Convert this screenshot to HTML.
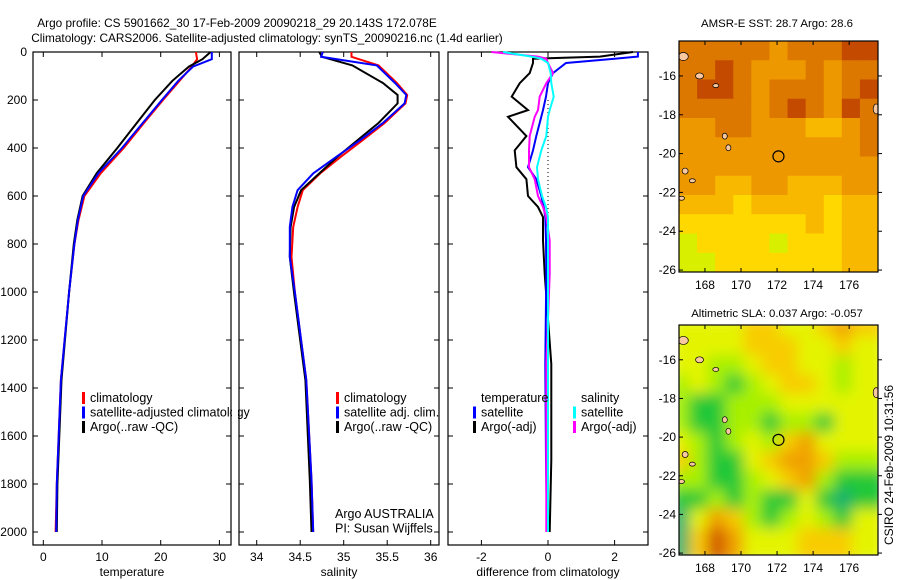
<!DOCTYPE html>
<html><head><meta charset="utf-8"><style>
body{margin:0;background:#fff}
svg{display:block;font-family:"Liberation Sans",sans-serif}
</style></head><body>
<svg id="c" width="900" height="580" viewBox="0 0 900 580">
<defs><filter id="blur" x="0" y="0" width="1" height="1"><feGaussianBlur stdDeviation="7"/></filter>
<clipPath id="clipTop"><rect x="679" y="41" width="199" height="231"/></clipPath>
<clipPath id="clipBot"><rect x="679" y="325" width="199" height="230"/></clipPath></defs>
<text x="237" y="27" font-size="11.8" text-anchor="middle">Argo profile: CS 5901662_30 17-Feb-2009 20090218_29 20.143S 172.078E</text>
<text x="267" y="42" font-size="11.8" text-anchor="middle">Climatology: CARS2006. Satellite-adjusted climatology: synTS_20090216.nc (1.4d earlier)</text>
<text x="777" y="27" font-size="11.4" text-anchor="middle">AMSR-E SST: 28.7 Argo: 28.6</text>
<text x="777" y="317" font-size="11.4" text-anchor="middle">Altimetric SLA: 0.037 Argo: -0.057</text>
<text transform="translate(893,465) rotate(-90)" font-size="12" text-anchor="middle">CSIRO 24-Feb-2009 10:31:56</text>
<g id="g"></g>
</svg>
<script>
// ---- data ----
const tDepth=[0,30,61,120,200,300,400,505,600,700,800,1000,1367,1800,2000];
const tempSat=[28.7,28.7,25.5,23.0,20.2,16.8,13.4,9.4,6.8,5.9,5.3,4.4,3.0,2.3,2.2];
const tempClim=[26.0,26.2,25.3,23.2,20.4,17.0,13.7,9.8,7.0,6.0,5.3,4.4,3.0,2.3,2.1];
const tempArgo=[28.5,27.1,24.8,22.0,19.0,15.8,12.6,9.1,6.7,5.8,5.2,4.4,3.1,2.4,2.3];
const sDepth=[0,20,56,129,179,214,296,367,436,506,576,646,729,854,1005,1367,1783,2000];
const salSat=[34.76,34.74,35.38,35.59,35.72,35.70,35.45,35.19,34.92,34.65,34.47,34.41,34.38,34.38,34.44,34.57,34.63,34.65];
const salClim=[35.09,35.09,35.40,35.61,35.73,35.71,35.47,35.22,34.97,34.73,34.53,34.47,34.42,34.40,34.44,34.57,34.63,34.65];
const salArgo=[34.72,34.75,35.10,35.45,35.62,35.62,35.40,35.16,34.93,34.72,34.51,34.43,34.39,34.38,34.43,34.56,34.61,34.63];
const dDepth=[0,19,28,46,88,130,186,242,270,350,410,480,530,600,646,688,785,925,1300,1700,2000];
const dTempArgo=[2.55,1.56,-0.45,-0.45,-0.55,-0.85,-1.09,-0.6,-1.2,-0.65,-1.0,-0.95,-0.65,-0.6,-0.3,-0.15,-0.15,-0.1,0.1,0.1,0.05];
const dTempSat=[2.7,2.7,2.0,0.54,0.15,0.0,-0.06,-0.15,-0.2,-0.35,-0.45,-0.6,-0.35,-0.2,-0.13,-0.08,-0.06,-0.05,-0.08,-0.06,-0.03];
const dSalSat=[-1.35,-0.5,-0.2,0.0,0.08,0.1,0.17,0.05,0.0,-0.05,-0.2,-0.33,-0.3,-0.18,-0.06,0.0,0.0,0.0,0.0,0.0,0.0];
const dSalArgo=[-1.7,-0.3,-0.05,0.0,0.15,-0.05,-0.25,-0.3,-0.4,-0.55,-0.57,-0.57,-0.4,-0.3,-0.15,-0.05,0.05,0.05,-0.05,-0.05,-0.05];
const depthTicks=[0,200,400,600,800,1000,1200,1400,1600,1800,2000];
const tempTicks=[0,10,20,30];
const salTicks=[34,34.5,35,35.5,36];
const diffTicks=[-2,0,2];
const lonTicks=[168,170,172,174,176];
const latTicks=[-16,-18,-20,-22,-24,-26];
const sstGrid=[
[2,2,2,2,2,3,2,2,2,1,1],[2,2,1,2,3,3,3,2,3,2,2],[2,1,1,2,3,2,2,2,3,2,1],[2,2,2,2,3,2,1,2,3,1,2],
[3,3,2,2,3,3,3,4,4,3,2],[3,3,3,3,3,3,3,3,3,3,2],[3,3,3,3,3,3,3,3,3,3,3],[3,3,4,4,3,3,4,4,4,3,3],
[4,4,4,5,4,4,4,4,5,4,4],[5,5,5,5,5,5,5,4,5,4,4],[6,5,5,5,5,6,5,5,5,4,4],[6,6,5,5,5,5,5,5,5,4,4]];
const slaGrid=[
[0,0,0,0,1,1,0,0,1,2,1],[0,0,0,0,1,1,1,0,0,1,0],[0,0,-1,-1,0,1,1,0,0,-1,0],[-1,0,-1,-2,-1,0,1,1,0,-1,0],
[-1,-2,-2,-1,-1,-1,0,0,0,0,0],[-1,-2,-2,-1,-1,-2,-1,-1,-2,0,0],[0,-1,-2,-1,0,-1,1,2,0,0,0],[1,-1,-2,-2,0,1,2,2,1,-1,-1],
[-1,-1,-2,-2,-1,0,1,2,-1,-2,-2],[-2,-2,-1,-2,-1,-2,-2,0,-2,-3,-2],[-3,0,2,1,-1,-2,-1,0,-1,-2,0],[-3,1,3,2,0,0,0,1,1,1,0]];
const argoLon=172.078, argoLat=-20.143;
// ---- helpers ----
const NS="http://www.w3.org/2000/svg", G=document.getElementById('g');
function mk(tag,at,parent){const e=document.createElementNS(NS,tag);for(const k in at)e.setAttribute(k,at[k]);(parent||G).appendChild(e);return e;}
const yD=d=>52+d*0.24;
const panels=[
 {x0:33,x1:231,sx:v=>43.3+v*5.87,ticks:tempTicks,label:'temperature',name:'temperature'},
 {x0:239,x1:439,sx:v=>256.7+(v-34)*87,ticks:salTicks,label:'salinity',name:'salinity'},
 {x0:448,x1:648,sx:v=>548+v*33.3,ticks:diffTicks,label:'difference from climatology',name:'difference'}];
panels.forEach((p,i)=>{
 const b=mk('rect',{x:p.x0,y:52,width:p.x1-p.x0,height:493,fill:'none',stroke:'#000','stroke-width':1.2});
 
 
 depthTicks.forEach(d=>{
  mk('line',{x1:p.x0,x2:p.x0+5,y1:yD(d),y2:yD(d),stroke:'#000'});
  mk('line',{x1:p.x1,x2:p.x1-5,y1:yD(d),y2:yD(d),stroke:'#000'});
  if(i==0){const t=mk('text',{x:27,y:yD(d)+4,'font-size':12,'text-anchor':'end'});t.textContent=d;
   
   }
 });
 p.ticks.forEach(v=>{
  const x=p.sx(v);
  mk('line',{x1:x,x2:x,y1:545,y2:540,stroke:'#000'});
  mk('line',{x1:x,x2:x,y1:52,y2:57,stroke:'#000'});
  const t=mk('text',{x:x,y:561,'font-size':12,'text-anchor':'middle'});t.textContent=v;
  
  
 });
 const l=mk('text',{x:(p.x0+p.x1)/2,y:576,'font-size':12,'text-anchor':'middle'});l.textContent=p.label;
 
 
});
function line(p,depths,vals,col,name){
 const pts=depths.map((d,k)=>p.sx(vals[k]).toFixed(1)+','+yD(d).toFixed(1)).join(' ');
 const e=mk('polyline',{points:pts,fill:'none',stroke:col,'stroke-width':2});
 
 
}
const zl=mk('line',{x1:548,x2:548,y1:yD(200),y2:yD(2000),stroke:'#000','stroke-dasharray':'1,3'});


line(panels[0],tDepth,tempClim,'#f00','temp-climatology-line');
line(panels[0],tDepth,tempArgo,'#000','temp-argo-line');
line(panels[0],tDepth,tempSat,'#00f','temp-satellite-line');
line(panels[1],sDepth,salClim,'#f00','sal-climatology-line');
line(panels[1],sDepth,salArgo,'#000','sal-argo-line');
line(panels[1],sDepth,salSat,'#00f','sal-satellite-line');
line(panels[2],dDepth,dTempArgo,'#000','diff-temp-argo-line');
line(panels[2],dDepth,dTempSat,'#00f','diff-temp-satellite-line');
line(panels[2],dDepth,dSalArgo,'#f0f','diff-sal-argo-line');
line(panels[2],dDepth,dSalSat,'#0ff','diff-sal-satellite-line');
function legend(x,y,items,name){
 items.forEach((it,k)=>{
  if(it[1]){mk('rect',{x:x,y:y+k*14.5-10,width:3,height:12,fill:it[1]});}
  const t=mk('text',{x:x+8,y:y+k*14.5,'font-size':12.5});t.textContent=it[0];
  
  
 });
}
legend(82,402,[['climatology','#f00'],['satellite-adjusted climatology','#00f'],['Argo(..raw -QC)','#000']],'temp-legend');
legend(336,402,[['climatology','#f00'],['satellite adj. clim.','#00f'],['Argo(..raw -QC)','#000']],'sal-legend');
legend(473,402,[['temperature',null],['satellite','#00f'],['Argo(-adj)','#000']],'diff-temp-legend');
legend(573,402,[['salinity',null],['satellite','#0ff'],['Argo(-adj)','#f0f']],'diff-sal-legend');
mk('rect',{x:232,y:390,width:6,height:50,fill:'#fff'});
legend(327,518,[['Argo AUSTRALIA',null],['PI: Susan Wijffels',null]],'credit');
// ---- maps ----
const sstPal=['#b83000','#c44a00','#dc7800','#ee9800','#f8b800','#ffd800','#d8f000','#50e000'];
const slaPal={'-3':'#18b070','-2':'#20c838','-1':'#a8f000','0':'#e4f400','1':'#f8cc00','2':'#f0a000','3':'#d05800'};
function map(y0,h,grid,pal,clip,blur,name){
 const x0=679,w=199,lon0=166.56,lon1=177.6,lat0=-14.2,lat1=-26.1;
 const lx=v=>x0+(v-lon0)/(lon1-lon0)*w, ly=v=>y0+(v-lat0)/(lat1-lat0)*h;
 const g=mk('g',{'clip-path':'url(#'+clip+')'});
 const gi=mk('g',blur?{filter:'url(#blur)'}:{},g);
 const nr=grid.length,nc=grid[0].length,cw=w/nc,ch=h/nr;
 grid.forEach((row,r)=>row.forEach((v,c)=>{
  const e=mk('rect',{x:x0+c*cw-(blur?8:0),y:y0+r*ch-(blur?8:0),width:cw+(blur?16:0.5),height:ch+(blur?16:0.5),fill:pal[v]},gi);
  
  
 }));
 [[166.8,-15.0,5,4],[167.7,-16.0,4,3],[168.6,-16.5,3,2],[169.1,-19.1,2.5,3],[169.3,-19.7,2.5,3],[166.9,-20.9,3,3],[167.3,-21.4,3,2],[166.7,-22.3,3,2],[177.5,-17.7,3,5]].forEach(q=>{
  mk('ellipse',{cx:lx(q[0]),cy:ly(q[1]),rx:q[2],ry:q[3],fill:'#f8c8a0',stroke:'#000','stroke-width':0.7},g);
 });
 const fr=mk('rect',{x:x0,y:y0,width:w,height:h,fill:'none',stroke:'#000','stroke-width':1.2});
 
 
 const ci=mk('circle',{cx:lx(argoLon),cy:ly(argoLat),r:5.5,fill:'none',stroke:'#000','stroke-width':1.2});
 
 
 lonTicks.forEach(v=>{const x=lx(v);
  mk('line',{x1:x,x2:x,y1:y0+h,y2:y0+h-4,stroke:'#000'});mk('line',{x1:x,x2:x,y1:y0,y2:y0+4,stroke:'#000'});
  const t=mk('text',{x:x,y:y0+h+17,'font-size':12,'text-anchor':'middle'});t.textContent=v;
  
  });
 latTicks.forEach(v=>{const y=ly(v);
  mk('line',{x1:x0,x2:x0+4,y1:y,y2:y,stroke:'#000'});mk('line',{x1:x0+w,x2:x0+w+4,y1:y,y2:y,stroke:'#000'});
  const t=mk('text',{x:x0-3,y:y+4,'font-size':12,'text-anchor':'end'});t.textContent=v;
  
  });
}
map(41,231,sstGrid,sstPal,'clipTop',false,'sst-map');
map(325,230,slaGrid,slaPal,'clipBot',true,'sla-map');
</script>
</body></html>
